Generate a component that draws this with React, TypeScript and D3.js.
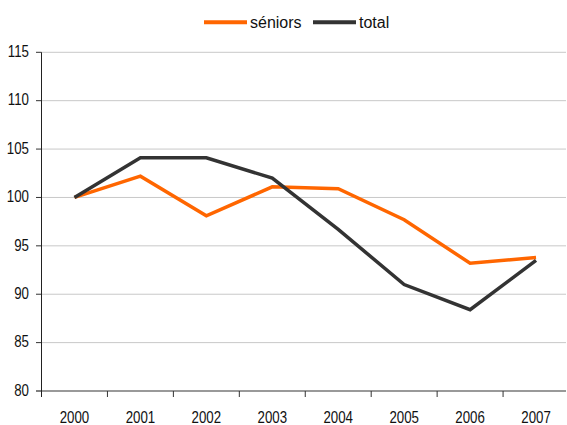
import React from "react";
import * as d3 from "d3";

const years = ["2000", "2001", "2002", "2003", "2004", "2005", "2006", "2007"];
const seniors = [100, 102.2, 98.1, 101.1, 100.9, 97.7, 93.2, 93.8];
const total = [100, 104.1, 104.1, 102.0, 96.7, 91.0, 88.4, 93.5];
const yTicks = [80, 85, 90, 95, 100, 105, 110, 115];
const seriesNames = ["séniors", "total"];
const colors = ["#ff6600", "#333333"];

export default function App() {
  const W = 567, H = 425;
  const left = 41.5, right = 569, top = 52.3, bottom = 391;
  const x = d3.scaleBand().domain(years).range([left, right]);
  const y = d3.scaleLinear().domain([80, 115]).range([bottom, top]);
  const line = d3
    .line<number>()
    .x((_, i) => (x(years[i]) as number) + x.bandwidth() / 2)
    .y((d) => y(d));
  const font = "'Liberation Sans', Arial, sans-serif";
  const series = [seniors, total];
  const sx = 0.83;
  return (
    <svg width={W} height={H} style={{ position: "absolute", left: 0, top: 0 }} fontFamily={font}>
      {yTicks.map((t) => (
        <g key={t}>
          {t !== 80 && <line x1={left} x2={566} y1={y(t)} y2={y(t)} stroke="#c8c8c8" strokeWidth={1} />}
          <line x1={36} x2={left} y1={y(t)} y2={y(t)} stroke="#333" strokeWidth={1} />
          <text
            transform={`translate(29,${y(t)}) scale(${sx},1)`}
            dy="0.3em"
            textAnchor="end"
            fontSize={16}
            fill="#111"
          >
            {t}
          </text>
        </g>
      ))}
      <line x1={36} x2={566} y1={bottom} y2={bottom} stroke="#777" strokeWidth={1.5} />
      <line x1={left} x2={left} y1={top} y2={397} stroke="#222" strokeWidth={1} />
      {years.map((yr, i) => (
        <g key={yr}>
          {i > 0 && (
            <line x1={x(yr) as number} x2={x(yr) as number} y1={bottom} y2={397} stroke="#333" strokeWidth={1} />
          )}
          <text
            transform={`translate(${(x(yr) as number) + x.bandwidth() / 2},423) scale(${sx},1)`}
            textAnchor="middle"
            fontSize={16}
            fill="#111"
          >
            {yr}
          </text>
        </g>
      ))}
      {series.map((s, i) => (
        <path key={i} d={line(s) as string} fill="none" stroke={colors[i]} strokeWidth={3.5} strokeLinejoin="miter" />
      ))}
      {seriesNames.map((n, i) => {
        const lx = i === 0 ? 204 : 313;
        return (
          <g key={n}>
            <line x1={lx} x2={lx + 43} y1={22.3} y2={22.3} stroke={colors[i]} strokeWidth={4} />
            <text x={lx + 46} y={22.3} dy="0.35em" fontSize={16} fill="#111">
              {n}
            </text>
          </g>
        );
      })}
    </svg>
  );
}
